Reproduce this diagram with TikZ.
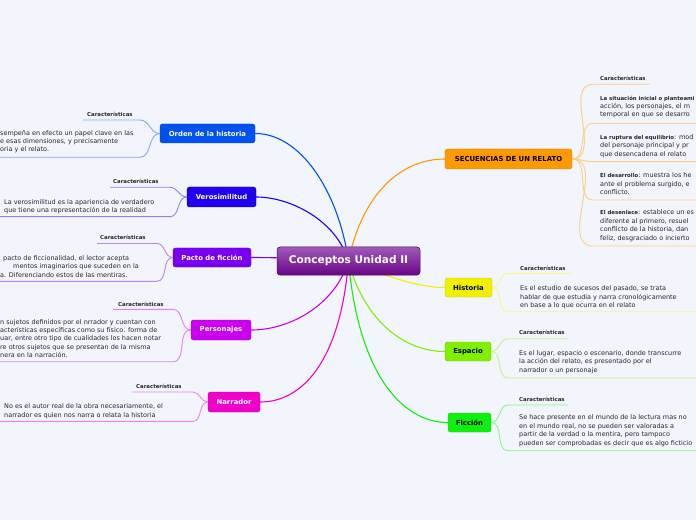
\documentclass[tikz,border=0pt]{standalone}
\usepackage{fontspec}
\setmainfont{DejaVu Sans}
\definecolor{bg}{RGB}{242,245,252}
\definecolor{txt}{RGB}{40,40,40}
\definecolor{corden}{RGB}{0,82,240}
\definecolor{cveros}{RGB}{32,0,240}
\definecolor{cpacto}{RGB}{122,0,240}
\definecolor{cperso}{RGB}{204,0,240}
\definecolor{cnarr}{RGB}{240,0,200}
\definecolor{csec}{RGB}{255,153,0}
\definecolor{chist}{RGB}{240,240,0}
\definecolor{cesp}{RGB}{128,240,0}
\definecolor{cfic}{RGB}{16,240,16}
\definecolor{roottop}{RGB}{160,90,185}
\definecolor{rootbot}{RGB}{105,5,135}
\newcommand{\lab}[1]{{\fontsize{5.4}{5.6}\selectfont\bfseries #1}}
\begin{document}
\begin{tikzpicture}[x=1bp,y=-1bp,
  topic/.style={rounded corners=2.5bp, inner sep=0pt, font=\fontsize{6.9}{7.2}\selectfont\bfseries},
  rootbox/.style={rounded corners=3bp, inner sep=0pt, minimum width=143bp, minimum height=28bp,
    top color=roottop, bottom color=rootbot, draw=rootbot!70!black, line width=0.5bp,
    text=white, font=\fontsize{10.6}{11}\selectfont\bfseries},
  cara/.style={font=\fontsize{5.4}{5.6}\selectfont\bfseries, text=txt, inner sep=0pt, anchor=base west},
  body/.style={font=\fontsize{6.5}{8.4}\selectfont, text=txt, inner sep=0pt, align=left, anchor=base west},
  branch/.style={line width=1.1bp},
  sub/.style={line width=0.9bp},
]
\useasboundingbox (0,0) rectangle (696,520);
\fill[bg] (0,0) rectangle (696,520);
\clip (0,0) rectangle (696,520);

% topic nodes
\node[topic, fill=corden, draw=corden!80!black, text=white, minimum width=95bp, minimum height=19bp] (orden) at (207.5,133.5) {Orden de la historia};
\node[topic, fill=cveros, draw=cveros!80!black, text=white, minimum width=69bp, minimum height=20bp] (veros) at (221.5,197) {Verosimilitud};
\node[topic, fill=cpacto, draw=cpacto!80!black, text=white, minimum width=78bp, minimum height=19bp] (pacto) at (212,257.5) {Pacto de ficción};
\node[topic, fill=cperso, draw=cperso!80!black, text=white, minimum width=60bp, minimum height=20bp] (perso) at (221,330) {Personajes};
\node[topic, fill=cnarr, draw=cnarr!80!black, text=white, minimum width=52bp, minimum height=20bp] (narr) at (234,402) {Narrador};
\node[topic, fill=csec, draw=csec!85!black, text=black, minimum width=127bp, minimum height=20bp] (sec) at (508.5,159) {SECUENCIAS DE UN RELATO};
\node[topic, fill=chist, draw=chist!85!black, text=black, minimum width=47bp, minimum height=19bp] (hist) at (468.5,287.5) {Historia};
\node[topic, fill=cesp, draw=cesp!85!black, text=black, minimum width=46bp, minimum height=19bp] (esp) at (468,351.5) {Espacio};
\node[topic, fill=cfic, draw=cfic!85!black, text=black, minimum width=43bp, minimum height=19bp] (fic) at (469.5,422.5) {Ficción};

\coordinate (rc) at (348.5,261);

% main branches
\draw[branch, corden] (rc) .. controls (338,190) and (300,133.5) .. (orden.east);
\draw[branch, cveros] (rc) .. controls (336,220) and (290,197) .. (veros.east);
\draw[branch, cpacto] (rc) .. controls (320,259) and (280,257.5) .. (pacto.east);
\draw[branch, cperso] (rc) .. controls (335,305) and (290,330) .. (perso.east);
\draw[branch, cnarr] (rc) .. controls (340,365) and (300,402) .. (narr.east);
\draw[branch, csec] (rc) .. controls (362,195) and (400,159) .. (sec.west);
\draw[branch, chist] (rc) .. controls (390,278) and (420,287.5) .. (hist.west);
\draw[branch, cesp] (rc) .. controls (362,315) and (400,351.5) .. (esp.west);
\draw[branch, cfic] (rc) .. controls (358,370) and (400,422.5) .. (fic.west);

\node[rootbox] (root) at (rc) {Conceptos Unidad II};

% subtopic connectors (left)
\coordinate (o1) at (140,120); \coordinate (o1e) at (83,120);
\coordinate (o2) at (140,157.3); \coordinate (o2e) at (0,157.3);
\draw[sub, corden!50!white] (orden.west) to[out=180,in=0] (o1) -- (o1e);
\draw[sub, corden!50!white] (orden.west) to[out=180,in=0] (o2) -- (o2e);
\coordinate (v1) at (170,187.3); \coordinate (v1e) at (110,187.3);
\coordinate (v2) at (170,216.7); \coordinate (v2e) at (0,216.7);
\draw[sub, cveros!50!white] (veros.west) to[out=180,in=0] (v1) -- (v1e);
\draw[sub, cveros!50!white] (veros.west) to[out=180,in=0] (v2) -- (v2e);
\coordinate (p1) at (157,243.5); \coordinate (p1e) at (97,243.5);
\coordinate (p2) at (157,281.3); \coordinate (p2e) at (0,281.3);
\draw[sub, cpacto!50!white] (pacto.west) to[out=180,in=0] (p1) -- (p1e);
\draw[sub, cpacto!50!white] (pacto.west) to[out=180,in=0] (p2) -- (p2e);
\coordinate (q1) at (173,309.3); \coordinate (q1e) at (113,309.3);
\coordinate (q2) at (173,361.7); \coordinate (q2e) at (0,361.7);
\draw[sub, cperso!50!white] (perso.west) to[out=180,in=0] (q1) -- (q1e);
\draw[sub, cperso!50!white] (perso.west) to[out=180,in=0] (q2) -- (q2e);
\coordinate (n1) at (193,392); \coordinate (n1e) at (132,392);
\coordinate (n2) at (193,421.3); \coordinate (n2e) at (0,421.3);
\draw[sub, cnarr!50!white] (narr.west) to[out=180,in=0] (n1) -- (n1e);
\draw[sub, cnarr!50!white] (narr.west) to[out=180,in=0] (n2) -- (n2e);

% subtopic connectors (right)
\foreach \yy/\xe [count=\i] in {84.3/650,123.3/696,161.7/696,200/696,246/696}{
  \coordinate (s\i) at (593,\yy); \coordinate (s\i e) at (\xe,\yy);
  \draw[sub, csec!50!white] (sec.east) to[out=0,in=180] (s\i) -- (s\i e);
}
\coordinate (h1) at (508,273.3); \coordinate (h1e) at (570,273.3);
\coordinate (h2) at (508,311.7); \coordinate (h2e) at (696,311.7);
\draw[sub, chist!50!white] (hist.east) to[out=0,in=180] (h1) -- (h1e);
\draw[sub, chist!50!white] (hist.east) to[out=0,in=180] (h2) -- (h2e);
\coordinate (e1) at (508,338.7); \coordinate (e1e) at (568,338.7);
\coordinate (e2) at (508,378); \coordinate (e2e) at (696,378);
\draw[sub, cesp!50!white] (esp.east) to[out=0,in=180] (e1) -- (e1e);
\draw[sub, cesp!50!white] (esp.east) to[out=0,in=180] (e2) -- (e2e);
\coordinate (f1) at (508,405); \coordinate (f1e) at (568,405);
\coordinate (f2) at (508,450.7); \coordinate (f2e) at (696,450.7);
\draw[sub, cfic!50!white] (fic.east) to[out=0,in=180] (f1) -- (f1e);
\draw[sub, cfic!50!white] (fic.east) to[out=0,in=180] (f2) -- (f2e);

% Características labels
\node[cara] (oc) at (87,116.8) {Características};
\node[cara] (vc) at (113,183.8) {Características};
\node[cara] (pc) at (100,239.8) {Características};
\node[cara] (qc) at (118,306.1) {Características};
\node[cara] (nc) at (136,388.8) {Características};
\node[cara] (sc) at (600,80.1) {Características};
\node[cara] (hc) at (520,270.1) {Características};
\node[cara] (ec) at (519,334.8) {Características};
\node[cara] (fc) at (519,401.8) {Características};

% body texts (anchor = baseline of the last line)
\node[body] (ot) at (0,151.8) {sempeña en efecto un papel clave en las\\e esas dimensiones, y precisamente\\oria y el relato.};
\node[body] (vt) at (4,212.8) {La verosimilitud es la apariencia de verdadero\\que tiene una representación de la realidad};
\node[body] (pt) at (0,277.1) {\hspace*{3bp}pacto de ficcionalidad, el lector acepta\\\hspace*{13bp}mentos imaginarios que suceden en la\\a. Diferenciando estos de las mentiras.};
\node[body] (qt) at (0,357.5) {n sujetos definidos por el nrrador y cuentan con\\acterísticas específicas como su físico. forma de\\uar, entre otro tipo de cualidades los hacen notar\\re otros sujetos que se presentan de la misma\\nera en la narración.};
\node[body] (nt) at (4,417.1) {No es el autor real de la obra necesariamente, el\\narrador es quien nos narra o relata la historia};

\node[body] (s2t) at (600,116.8) {\lab{La situación inicial o planteami}\\acción, los personajes, el m\\temporal en que se desarro};
\node[body] (s3t) at (600,156.1) {\lab{La ruptura del equilibrio}: mod\\del personaje principal y pr\\que desencadena el relato};
\node[body] (s4t) at (600,194.5) {\lab{El desarrollo}: muestra los he\\ante el problema surgido, e\\conflicto.};
\node[body] (s5t) at (600,240.1) {\lab{El desenlace}: establece un es\\diferente al primero, resuel\\conflicto de la historia, dan\\feliz, desgraciado o incierto};

\node[body] (ht) at (520,307.5) {Es el estudio de sucesos del pasado, se trata\\hablar de que estudia y narra cronológicamente\\en base a lo que ocurra en el relato};
\node[body] (et) at (519,372.1) {Es el lugar, espacio o escenario, donde transcurre\\la acción del relato, es presentado por el\\narrador o un personaje};
\node[body] (ft) at (519,445.1) {Se hace presente en el mundo de la lectura mas no\\en el mundo real, no se pueden ser valoradas a\\partir de la verdad o la mentira, pero tampoco\\pueden ser comprobadas es decir que es algo ficticio};
\end{tikzpicture}
\end{document}
